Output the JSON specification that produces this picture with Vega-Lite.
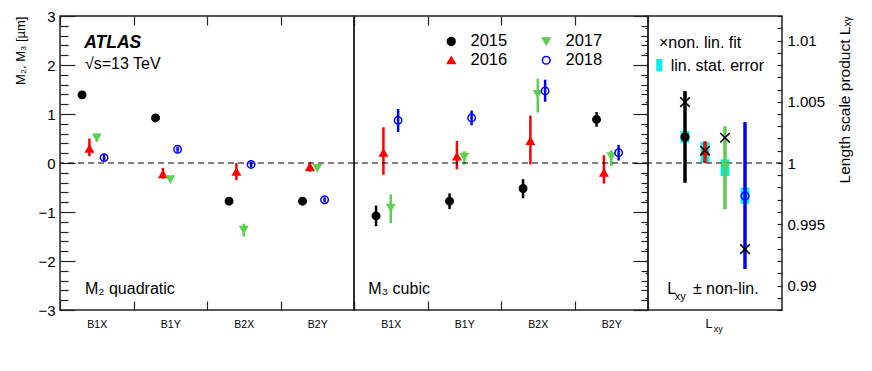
{
  "$schema": "https://vega.github.io/schema/vega-lite/v6.json",
  "padding": {"left": 14, "top": 8, "right": 5, "bottom": 5},
  "spacing": 0,
  "bounds": "flush",
  "config": {
    "font": "Liberation Sans",
    "view": {"stroke": "#222", "strokeWidth": 1.5},
    "axis": {"grid": false, "domain": false, "tickColor": "#222", "tickWidth": 1.2, "labelColor": "#000", "titleColor": "#000", "titleFontWeight": "normal", "labelFont": "Liberation Sans", "titleFont": "Liberation Sans"},
    "legend": {"orient": "none", "legendX": 383, "legendY": 17, "columns": 2, "direction": "vertical", "labelFontSize": 16.5, "symbolSize": 60, "labelOffset": 11, "columnPadding": 30, "rowPadding": 2, "symbolStrokeWidth": 1.5, "labelFont": "Liberation Sans"}
  },
  "resolve": {"scale": {"x": "independent", "y": "independent", "xOffset": "independent", "fill": "shared", "stroke": "shared", "shape": "shared"}},
  "datasets": {
    "m2": [
      {"cat": "B1X", "year": "2015", "v": 1.39, "lo": 1.31, "hi": 1.47},
      {"cat": "B1X", "year": "2016", "v": 0.29, "lo": 0.14, "hi": 0.50},
      {"cat": "B1X", "year": "2017", "v": 0.52, "lo": 0.44, "hi": 0.60},
      {"cat": "B1X", "year": "2018", "v": 0.11, "lo": 0.05, "hi": 0.17},
      {"cat": "B1Y", "year": "2015", "v": 0.92, "lo": 0.88, "hi": 0.96},
      {"cat": "B1Y", "year": "2016", "v": -0.23, "lo": -0.32, "hi": -0.10},
      {"cat": "B1Y", "year": "2017", "v": -0.33, "lo": -0.37, "hi": -0.29},
      {"cat": "B1Y", "year": "2018", "v": 0.28, "lo": 0.23, "hi": 0.33},
      {"cat": "B2X", "year": "2015", "v": -0.78, "lo": -0.84, "hi": -0.72},
      {"cat": "B2X", "year": "2016", "v": -0.18, "lo": -0.35, "hi": 0.0},
      {"cat": "B2X", "year": "2017", "v": -1.36, "lo": -1.50, "hi": -1.24},
      {"cat": "B2X", "year": "2018", "v": -0.03, "lo": -0.09, "hi": 0.03},
      {"cat": "B2Y", "year": "2015", "v": -0.78, "lo": -0.82, "hi": -0.74},
      {"cat": "B2Y", "year": "2016", "v": -0.08, "lo": -0.18, "hi": 0.02},
      {"cat": "B2Y", "year": "2017", "v": -0.10, "lo": -0.15, "hi": -0.05},
      {"cat": "B2Y", "year": "2018", "v": -0.75, "lo": -0.80, "hi": -0.70}
    ],
    "m3": [
      {"cat": "B1X", "year": "2015", "v": -1.08, "lo": -1.29, "hi": -0.87},
      {"cat": "B1X", "year": "2016", "v": 0.21, "lo": -0.24, "hi": 0.73},
      {"cat": "B1X", "year": "2017", "v": -0.91, "lo": -1.23, "hi": -0.64},
      {"cat": "B1X", "year": "2018", "v": 0.87, "lo": 0.63, "hi": 1.10},
      {"cat": "B1Y", "year": "2015", "v": -0.78, "lo": -0.94, "hi": -0.62},
      {"cat": "B1Y", "year": "2016", "v": 0.13, "lo": -0.13, "hi": 0.45},
      {"cat": "B1Y", "year": "2017", "v": 0.13, "lo": -0.03, "hi": 0.24},
      {"cat": "B1Y", "year": "2018", "v": 0.92, "lo": 0.77, "hi": 1.07},
      {"cat": "B2X", "year": "2015", "v": -0.52, "lo": -0.72, "hi": -0.33},
      {"cat": "B2X", "year": "2016", "v": 0.45, "lo": -0.03, "hi": 0.97},
      {"cat": "B2X", "year": "2017", "v": 1.41, "lo": 1.03, "hi": 1.72},
      {"cat": "B2X", "year": "2018", "v": 1.47, "lo": 1.25, "hi": 1.70},
      {"cat": "B2Y", "year": "2015", "v": 0.89, "lo": 0.74, "hi": 1.04},
      {"cat": "B2Y", "year": "2016", "v": -0.20, "lo": -0.42, "hi": 0.16},
      {"cat": "B2Y", "year": "2017", "v": 0.14, "lo": -0.06, "hi": 0.26},
      {"cat": "B2Y", "year": "2018", "v": 0.21, "lo": 0.05, "hi": 0.37}
    ],
    "lxy": [
      {"cat": "Lxy", "year": "2015", "v": 1.00212, "lo": 0.99839, "hi": 1.00587, "slo": 1.00165, "shi": 1.00262, "nl": 1.00497},
      {"cat": "Lxy", "year": "2016", "v": 1.00098, "lo": 0.99998, "hi": 1.00178, "slo": 1.00003, "shi": 1.00172, "nl": 1.0010},
      {"cat": "Lxy", "year": "2017", "v": 0.99970, "lo": 0.99623, "hi": 1.0030, "slo": 0.99894, "shi": 1.0003, "nl": 1.00206},
      {"cat": "Lxy", "year": "2018", "v": 0.99731, "lo": 0.99134, "hi": 1.00334, "slo": 0.99668, "shi": 0.99799, "nl": 0.99297}
    ]
  },
  "hconcat": [
    {
      "width": 294,
      "height": 294,
      "layer": [
        {
          "layer": [
            {
              "data": {"name": "m2"},
              "mark": {"type": "rule", "strokeWidth": 2.5},
              "encoding": {
                "x": {"field": "cat", "type": "nominal", "scale": {"domain": ["B1X", "B1Y", "B2X", "B2Y"], "paddingInner": 0, "paddingOuter": 0}, "axis": {"orient": "bottom", "tickBand": "extent", "tickSize": -9, "labelFontSize": 10.5, "labelPadding": 18, "labelAngle": 0, "title": null}},
                "xOffset": {"field": "year", "type": "nominal", "scale": {"domain": ["a", "b", "2015", "2016", "2017", "2018", "c", "d", "e"], "paddingInner": 0, "paddingOuter": 0.5}},
                "y": {"field": "lo", "type": "quantitative", "scale": {"domain": [-3, 3]}, "axis": {"orient": "left", "values": [-3, -2, -1, 0, 1, 2, 3], "tickSize": -15, "labelFontSize": 15, "labelPadding": 20, "title": "M₂, M₃ [µm]", "titleFontSize": 13, "titleAnchor": "end", "titlePadding": 10}},
                "y2": {"field": "hi"},
                "stroke": {"field": "year", "type": "nominal", "scale": {"domain": ["2015", "2016", "2017", "2018"], "range": ["#000000", "#ff0000", "#5ccf4f", "#0000ff"]}, "title": null}
              }
            },
            {
              "data": {"values": [{}]},
              "mark": {"type": "rule", "strokeDash": [6, 4], "color": "#000", "strokeWidth": 1.2},
              "encoding": {"y": {"datum": 0, "type": "quantitative"}}
            },
            {
              "data": {"name": "m2"},
              "mark": {"type": "point", "size": 55, "strokeWidth": 1.5, "opacity": 1},
              "encoding": {
                "x": {"field": "cat", "type": "nominal"},
                "xOffset": {"field": "year", "type": "nominal"},
                "y": {"field": "v", "type": "quantitative"},
                "fill": {"field": "year", "type": "nominal", "scale": {"domain": ["2015", "2016", "2017", "2018"], "range": ["#000000", "#ff0000", "#5ccf4f", "transparent"]}, "title": null},
                "stroke": {"field": "year", "type": "nominal", "scale": {"domain": ["2015", "2016", "2017", "2018"]}, "title": null},
                "shape": {"field": "year", "type": "nominal", "scale": {"domain": ["2015", "2016", "2017", "2018"], "range": ["circle", "triangle-up", "triangle-down", "circle"]}, "title": null}
              }
            },
            {
              "data": {"values": [{"cat": "B1X", "y": 2.35, "t": "ATLAS"}]},
              "mark": {"type": "text", "align": "left", "baseline": "alphabetic", "fontSize": 17.5, "fontWeight": "bold", "fontStyle": "italic"},
              "encoding": {"x": {"field": "cat", "type": "nominal", "bandPosition": 0.33}, "y": {"field": "y", "type": "quantitative"}, "text": {"field": "t"}}
            },
            {
              "data": {"values": [{"cat": "B1X", "y": 1.91, "t": "√s=13 TeV"}, {"cat": "B1X", "y": -2.68, "t": "M₂ quadratic"}]},
              "mark": {"type": "text", "align": "left", "baseline": "alphabetic", "fontSize": 16},
              "encoding": {"x": {"field": "cat", "type": "nominal", "bandPosition": 0.34}, "y": {"field": "y", "type": "quantitative"}, "text": {"field": "t"}}
            }
          ]
        },
        {
          "data": {"values": [{"cat": "B1X", "v": 0}]},
          "mark": {"type": "point", "opacity": 0},
          "encoding": {
            "x": {"field": "cat", "type": "nominal", "axis": {"orient": "top", "labels": false, "tickSize": -9, "tickBand": "extent", "title": null}},
            "y": {"field": "v", "type": "quantitative", "scale": {"domain": [-3, 3]}, "axis": {"orient": "left", "values": [-2.8, -2.6, -2.4, -2.2, -1.8, -1.6, -1.4, -1.2, -0.8, -0.6, -0.4, -0.2, 0.2, 0.4, 0.6, 0.8, 1.2, 1.4, 1.6, 1.8, 2.2, 2.4, 2.6, 2.8], "tickSize": -8, "labels": false, "title": null}}
          }
        }
      ],
      "resolve": {"scale": {"y": "independent"}, "axis": {"x": "independent", "y": "independent"}}
    },
    {
      "width": 294,
      "height": 294,
      "layer": [
        {
          "layer": [
            {
              "data": {"name": "m3"},
              "mark": {"type": "rule", "strokeWidth": 2.5},
              "encoding": {
                "x": {"field": "cat", "type": "nominal", "scale": {"domain": ["B1X", "B1Y", "B2X", "B2Y"], "paddingInner": 0, "paddingOuter": 0}, "axis": {"orient": "bottom", "tickBand": "extent", "tickSize": -9, "labelFontSize": 10.5, "labelPadding": 18, "labelAngle": 0, "title": null}},
                "xOffset": {"field": "year", "type": "nominal", "scale": {"domain": ["a", "b", "2015", "2016", "2017", "2018", "c", "d", "e"], "paddingInner": 0, "paddingOuter": 0.5}},
                "y": {"field": "lo", "type": "quantitative", "scale": {"domain": [-3, 3]}, "axis": {"orient": "right", "values": [-3, -2, -1, 0, 1, 2, 3], "tickSize": -15, "labels": false, "title": null}},
                "y2": {"field": "hi"},
                "stroke": {"field": "year", "type": "nominal", "scale": {"domain": ["2015", "2016", "2017", "2018"]}, "title": null}
              }
            },
            {
              "data": {"values": [{}]},
              "mark": {"type": "rule", "strokeDash": [6, 4], "color": "#000", "strokeWidth": 1.2},
              "encoding": {"y": {"datum": 0, "type": "quantitative"}}
            },
            {
              "data": {"name": "m3"},
              "mark": {"type": "point", "size": 55, "strokeWidth": 1.5, "opacity": 1},
              "encoding": {
                "x": {"field": "cat", "type": "nominal"},
                "xOffset": {"field": "year", "type": "nominal"},
                "y": {"field": "v", "type": "quantitative"},
                "fill": {"field": "year", "type": "nominal", "scale": {"domain": ["2015", "2016", "2017", "2018"]}, "title": null},
                "stroke": {"field": "year", "type": "nominal", "scale": {"domain": ["2015", "2016", "2017", "2018"]}, "title": null},
                "shape": {"field": "year", "type": "nominal", "scale": {"domain": ["2015", "2016", "2017", "2018"]}, "title": null}
              }
            },
            {
              "data": {"values": [{"cat": "B1X", "y": -2.68, "t": "M₃ cubic"}]},
              "mark": {"type": "text", "align": "left", "baseline": "alphabetic", "fontSize": 16},
              "encoding": {"x": {"field": "cat", "type": "nominal", "bandPosition": 0.195}, "y": {"field": "y", "type": "quantitative"}, "text": {"field": "t"}}
            }
          ]
        },
        {
          "data": {"values": [{"cat": "B1X", "v": 0}]},
          "mark": {"type": "point", "opacity": 0},
          "encoding": {
            "x": {"field": "cat", "type": "nominal", "axis": {"orient": "top", "labels": false, "tickSize": -9, "tickBand": "extent", "title": null}},
            "y": {"field": "v", "type": "quantitative", "scale": {"domain": [-3, 3]}, "axis": {"orient": "right", "values": [-2.8, -2.6, -2.4, -2.2, -1.8, -1.6, -1.4, -1.2, -0.8, -0.6, -0.4, -0.2, 0.2, 0.4, 0.6, 0.8, 1.2, 1.4, 1.6, 1.8, 2.2, 2.4, 2.6, 2.8], "tickSize": -7, "labels": false, "title": null}}
          }
        }
      ],
      "resolve": {"scale": {"y": "independent"}, "axis": {"x": "independent", "y": "independent"}}
    },
    {
      "width": 134,
      "height": 294,
      "layer": [
        {
          "layer": [
            {
              "data": {"name": "lxy"},
              "mark": {"type": "rule", "color": "#00f0f0", "strokeWidth": 9, "strokeCap": "butt"},
              "encoding": {
                "x": {"field": "cat", "type": "nominal", "scale": {"domain": ["Lxy"], "paddingInner": 0, "paddingOuter": 0}, "axis": null},
                "xOffset": {"field": "year", "type": "nominal", "scale": {"domain": ["a", "2015", "2016", "2017", "2018", "b"], "paddingInner": 0, "paddingOuter": 0.35}},
                "y": {"field": "slo", "type": "quantitative", "scale": {"domain": [0.988, 1.012]}, "axis": {"orient": "right", "values": [0.99, 0.995, 1, 1.005, 1.01], "format": ".3~f", "tickSize": -5, "labelFontSize": 15, "labelPadding": 10, "title": "Length scale product Lₓᵧ", "titleFontSize": 15.5, "titleAngle": -90, "titleAnchor": "end", "titleAlign": "right", "titleBaseline": "top", "titlePadding": 13}},
                "y2": {"field": "shi"}
              }
            },
            {
              "data": {"values": [{}]},
              "mark": {"type": "rule", "strokeDash": [6, 4], "color": "#000", "strokeWidth": 1.2},
              "encoding": {"y": {"datum": 1, "type": "quantitative"}}
            },
            {
              "data": {"name": "lxy"},
              "mark": {"type": "rule", "strokeWidth": 3.5},
              "encoding": {
                "x": {"field": "cat", "type": "nominal"},
                "xOffset": {"field": "year", "type": "nominal"},
                "y": {"field": "lo", "type": "quantitative"},
                "y2": {"field": "hi"},
                "stroke": {"field": "year", "type": "nominal", "scale": {"domain": ["2015", "2016", "2017", "2018"]}, "title": null}
              }
            },
            {
              "data": {"name": "lxy"},
              "mark": {"type": "point", "size": 60, "strokeWidth": 1.5, "opacity": 1},
              "encoding": {
                "x": {"field": "cat", "type": "nominal"},
                "xOffset": {"field": "year", "type": "nominal"},
                "y": {"field": "v", "type": "quantitative"},
                "fill": {"field": "year", "type": "nominal", "scale": {"domain": ["2015", "2016", "2017", "2018"]}, "title": null},
                "stroke": {"field": "year", "type": "nominal", "scale": {"domain": ["2015", "2016", "2017", "2018"]}, "title": null},
                "shape": {"field": "year", "type": "nominal", "scale": {"domain": ["2015", "2016", "2017", "2018"]}, "title": null}
              }
            },
            {
              "data": {"name": "lxy"},
              "mark": {"type": "point", "shape": "M-1,-1L1,1M1,-1L-1,1", "size": 90, "stroke": "#000", "strokeWidth": 1.6, "filled": false, "opacity": 1},
              "encoding": {
                "x": {"field": "cat", "type": "nominal"},
                "xOffset": {"field": "year", "type": "nominal"},
                "y": {"field": "nl", "type": "quantitative"}
              }
            },
            {
              "data": {"values": [{"cat": "Lxy", "y": 1.008}]},
              "mark": {"type": "point", "shape": "M-0.5,-1H0.5V1H-0.5Z", "size": 144, "filled": true, "color": "#00f0f0", "opacity": 1, "strokeWidth": 0},
              "encoding": {"x": {"field": "cat", "type": "nominal", "bandPosition": 0.084}, "y": {"field": "y", "type": "quantitative"}}
            },
            {
              "data": {"values": [{"cat": "Lxy", "y": 1.0094, "t": "×non. lin. fit"}]},
              "mark": {"type": "text", "align": "left", "baseline": "alphabetic", "fontSize": 16},
              "encoding": {"x": {"field": "cat", "type": "nominal", "bandPosition": 0.082}, "y": {"field": "y", "type": "quantitative"}, "text": {"field": "t"}}
            },
            {
              "data": {"values": [{"cat": "Lxy", "y": 1.0075, "t": "lin. stat. error"}]},
              "mark": {"type": "text", "align": "left", "baseline": "alphabetic", "fontSize": 16},
              "encoding": {"x": {"field": "cat", "type": "nominal", "bandPosition": 0.169}, "y": {"field": "y", "type": "quantitative"}, "text": {"field": "t"}}
            },
            {
              "data": {"values": [{"cat": "Lxy", "y": 0.9893, "t": "L"}]},
              "mark": {"type": "text", "align": "left", "baseline": "alphabetic", "fontSize": 16},
              "encoding": {"x": {"field": "cat", "type": "nominal", "bandPosition": 0.144}, "y": {"field": "y", "type": "quantitative"}, "text": {"field": "t"}}
            },
            {
              "data": {"values": [{"cat": "Lxy", "y": 0.98885, "t": "xy"}]},
              "mark": {"type": "text", "align": "left", "baseline": "alphabetic", "fontSize": 11},
              "encoding": {"x": {"field": "cat", "type": "nominal", "bandPosition": 0.2}, "y": {"field": "y", "type": "quantitative"}, "text": {"field": "t"}}
            },
            {
              "data": {"values": [{"cat": "Lxy", "y": 0.9893, "t": "±  non-lin."}]},
              "mark": {"type": "text", "align": "left", "baseline": "alphabetic", "fontSize": 16},
              "encoding": {"x": {"field": "cat", "type": "nominal", "bandPosition": 0.335}, "y": {"field": "y", "type": "quantitative"}, "text": {"field": "t"}}
            },
            {
              "data": {"values": [{"cat": "Lxy", "y": 0.98653, "t": "L"}]},
              "mark": {"type": "text", "align": "left", "baseline": "alphabetic", "fontSize": 12.5},
              "encoding": {"x": {"field": "cat", "type": "nominal", "bandPosition": 0.43}, "y": {"field": "y", "type": "quantitative"}, "text": {"field": "t"}}
            },
            {
              "data": {"values": [{"cat": "Lxy", "y": 0.98623, "t": "xy"}]},
              "mark": {"type": "text", "align": "left", "baseline": "alphabetic", "fontSize": 9},
              "encoding": {"x": {"field": "cat", "type": "nominal", "bandPosition": 0.49}, "y": {"field": "y", "type": "quantitative"}, "text": {"field": "t"}}
            }
          ]
        },
        {
          "data": {"values": [{"cat": "Lxy", "v": 1}]},
          "mark": {"type": "point", "opacity": 0},
          "encoding": {
            "x": {"field": "cat", "type": "nominal", "axis": null},
            "y": {"field": "v", "type": "quantitative", "scale": {"domain": [0.988, 1.012]}, "axis": {"orient": "left", "values": [0.988, 0.989, 0.99, 0.991, 0.992, 0.993, 0.994, 0.995, 0.996, 0.997, 0.998, 0.999, 1, 1.001, 1.002, 1.003, 1.004, 1.005, 1.006, 1.007, 1.008, 1.009, 1.01, 1.011, 1.012], "tickSize": 3, "labels": false, "title": null}}
          }
        },
        {
          "data": {"values": [{"cat": "Lxy", "v": 1}]},
          "mark": {"type": "point", "opacity": 0},
          "encoding": {
            "x": {"field": "cat", "type": "nominal", "axis": null},
            "y": {"field": "v", "type": "quantitative", "scale": {"domain": [0.988, 1.012]}, "axis": {"orient": "right", "values": [0.988, 0.989, 0.991, 0.992, 0.993, 0.994, 0.996, 0.997, 0.998, 0.999, 1.001, 1.002, 1.003, 1.004, 1.006, 1.007, 1.008, 1.009, 1.011, 1.012], "tickSize": -5, "labels": false, "title": null}}
          }
        }
      ],
      "resolve": {"scale": {"y": "independent"}, "axis": {"x": "independent", "y": "independent"}}
    }
  ]
}
